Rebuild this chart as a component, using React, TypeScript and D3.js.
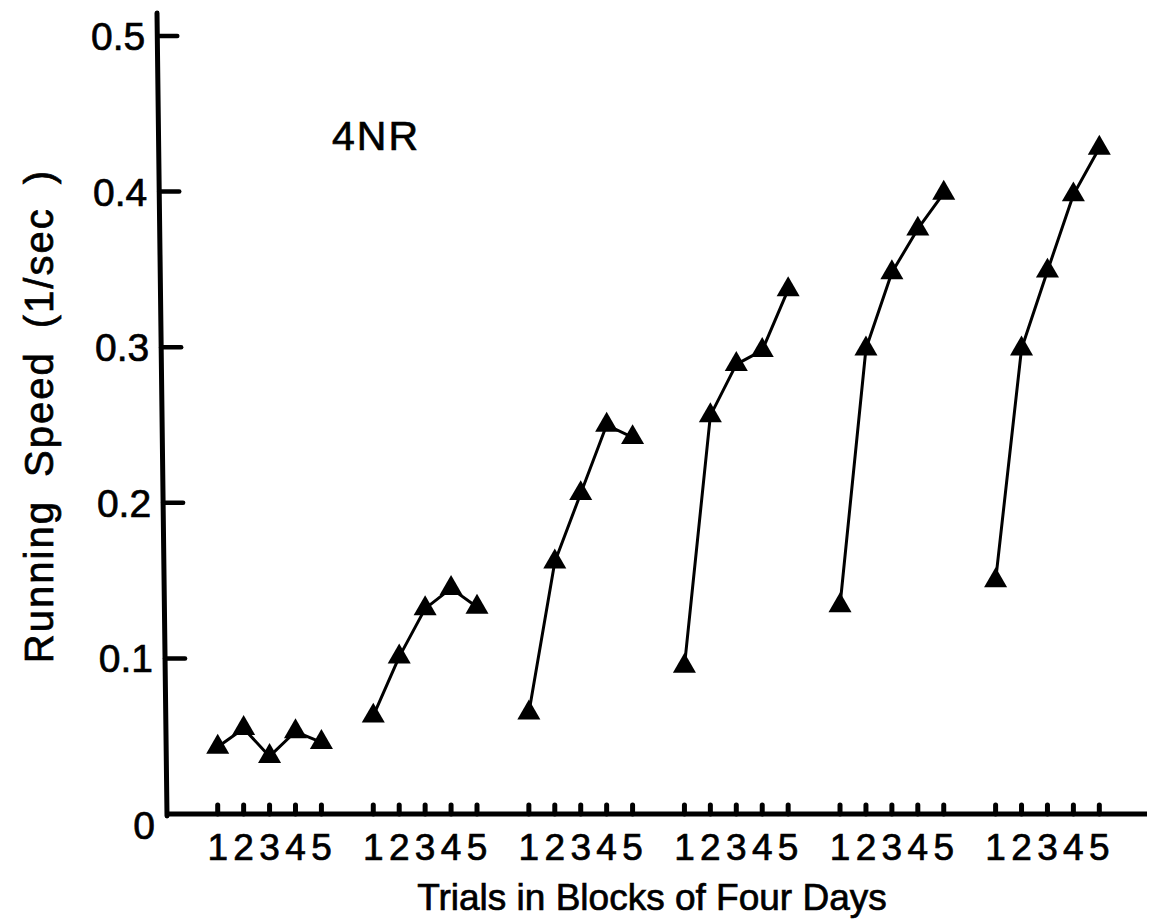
import React from "react";
import * as d3 from "d3";

// Running speed (1/sec) per trial, one array per four-day block
const trialLabels = ["1", "2", "3", "4", "5"];
const speedBlock1 = [0.043, 0.055, 0.037, 0.053, 0.046];
const speedBlock2 = [0.063, 0.101, 0.132, 0.145, 0.133];
const speedBlock3 = [0.065, 0.162, 0.206, 0.25, 0.242];
const speedBlock4 = [0.095, 0.256, 0.289, 0.298, 0.337];
const speedBlock5 = [0.134, 0.299, 0.348, 0.376, 0.399];
const speedBlock6 = [0.15, 0.299, 0.349, 0.398, 0.428];
const blocks = [speedBlock1, speedBlock2, speedBlock3, speedBlock4, speedBlock5, speedBlock6];

const yTicks = [0, 0.1, 0.2, 0.3, 0.4, 0.5];
const yTickLabels = ["0", "0.1", "0.2", "0.3", "0.4", "0.5"];
const groupLabel = "4NR";
const xTitle = "Trials in Blocks of Four Days";
const yTitle = "Running Speed (1/sec )";

const W = 1151;
const H = 924;
const FONT = "'Liberation Sans', Arial, Helvetica, sans-serif";
const SLOT = 6; // five trials plus a gap between blocks

export default function App() {
  // slot index -> horizontal position
  const x = d3.scaleLinear().domain([0, 30]).range([217.7, 995.6]);
  const y = d3.scaleLinear().domain([0, 0.5]).range([814, 36]);
  // the hand-drawn vertical axis leans slightly
  const axisX = d3.scaleLinear().domain([816, 13]).range([167, 157]);

  const tri = d3.symbol().type(d3.symbolTriangle).size(230)();

  const slots: number[] = [];
  blocks.forEach((_, b) => trialLabels.forEach((_, t) => slots.push(b * SLOT + t)));

  const ink = { fill: "#000", stroke: "#000", strokeWidth: 0.7 };

  return (
    <svg
      width={W}
      height={H}
      viewBox={`0 0 ${W} ${H}`}
      style={{ position: "absolute", left: 0, top: 0, background: "#fff" }}
    >
      <rect width={W} height={H} fill="#fff" />

      {/* y axis */}
      <line
        x1={axisX(13)}
        y1={13}
        x2={axisX(816)}
        y2={816}
        stroke="#000"
        strokeWidth={5}
        strokeLinecap="round"
      />
      {yTicks.map((v, i) => {
        const ty = y(v);
        const ax = axisX(ty);
        return (
          <g key={"yt" + i}>
            {v > 0 && (
              <line x1={ax} y1={ty} x2={ax + 20} y2={ty} stroke="#000" strokeWidth={4.5} strokeLinecap="round" />
            )}
            <text
              x={ax - 12}
              y={ty + (v === 0 ? 25 : 14)}
              textAnchor="end"
              fontFamily={FONT}
              fontSize={39}
              {...ink}
            >
              {yTickLabels[i]}
            </text>
          </g>
        );
      })}

      {/* x axis */}
      <line x1={axisX(814)} y1={814} x2={1147} y2={814} stroke="#000" strokeWidth={5} />
      {slots.map((s) => (
        <line
          key={"xt" + s}
          x1={x(s)}
          y1={814}
          x2={x(s)}
          y2={805}
          stroke="#000"
          strokeWidth={5}
          strokeLinecap="round"
        />
      ))}
      {slots.map((s) => (
        <text
          key={"xl" + s}
          x={x(s)}
          y={860}
          textAnchor="middle"
          fontFamily={FONT}
          fontSize={37}
          {...ink}
        >
          {trialLabels[s % SLOT]}
        </text>
      ))}

      {/* series: one polyline per block */}
      {blocks.map((vals, b) => {
        const path = d3
          .line<number>()
          .x((_, i) => x(b * SLOT + i))
          .y((d) => y(d))(vals);
        return (
          <g key={"b" + b}>
            <path d={path || ""} fill="none" stroke="#000" strokeWidth={3} strokeLinejoin="round" />
            {vals.map((v, i) => (
              <path
                key={i}
                d={tri || ""}
                transform={`translate(${x(b * SLOT + i)},${y(v)})`}
                fill="#000"
              />
            ))}
          </g>
        );
      })}

      {/* group label */}
      <text x={332} y={150} fontFamily={FONT} fontSize={41} letterSpacing={2} {...ink}>
        {groupLabel}
      </text>

      {/* axis titles */}
      <text
        x={652}
        y={910}
        textAnchor="middle"
        fontFamily={FONT}
        fontSize={37}
        {...ink}
      >
        {xTitle}
      </text>
      <text
        transform="translate(53,416) rotate(-90)"
        textAnchor="middle"
        fontFamily={FONT}
        fontSize={40}
        letterSpacing={2}
        wordSpacing={10}
        {...ink}
      >
        {yTitle}
      </text>
    </svg>
  );
}
